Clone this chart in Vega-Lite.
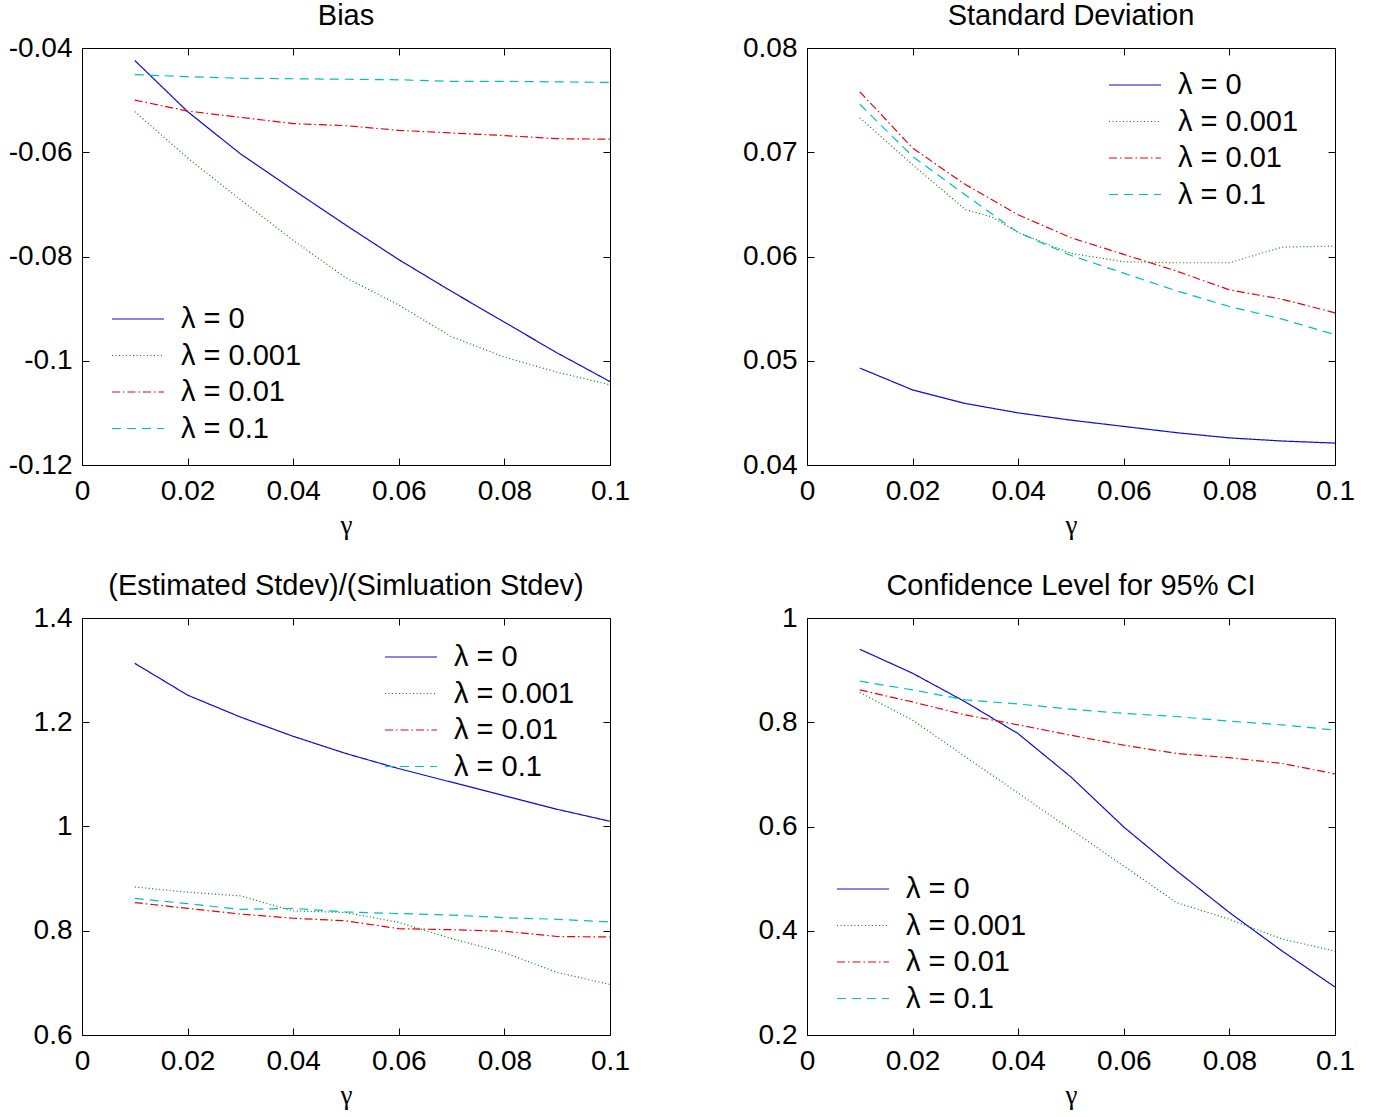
{
  "$schema": "https://vega.github.io/schema/vega-lite/v6.json",
  "padding": {"left": 6, "top": 1, "right": 5, "bottom": 5},
  "background": "white",
  "columns": 2,
  "spacing": {"column": 101, "row": 32},
  "resolve": {
    "scale": {"x": "independent", "y": "independent", "color": "independent", "strokeDash": "independent"},
    "legend": {"color": "independent", "strokeDash": "independent"}
  },
  "datasets": {
    "bias": [
      {"g":0.01,"lam":"λ = 0","v":-0.0424},{"g":0.02,"lam":"λ = 0","v":-0.0522},{"g":0.03,"lam":"λ = 0","v":-0.0603},{"g":0.04,"lam":"λ = 0","v":-0.0672},{"g":0.05,"lam":"λ = 0","v":-0.0740},{"g":0.06,"lam":"λ = 0","v":-0.0806},{"g":0.07,"lam":"λ = 0","v":-0.0867},{"g":0.08,"lam":"λ = 0","v":-0.0926},{"g":0.09,"lam":"λ = 0","v":-0.0985},{"g":0.1,"lam":"λ = 0","v":-0.1040},
      {"g":0.01,"lam":"λ = 0.001","v":-0.0522},{"g":0.02,"lam":"λ = 0.001","v":-0.0611},{"g":0.03,"lam":"λ = 0.001","v":-0.0691},{"g":0.04,"lam":"λ = 0.001","v":-0.0769},{"g":0.05,"lam":"λ = 0.001","v":-0.0841},{"g":0.06,"lam":"λ = 0.001","v":-0.0893},{"g":0.07,"lam":"λ = 0.001","v":-0.0954},{"g":0.08,"lam":"λ = 0.001","v":-0.0993},{"g":0.09,"lam":"λ = 0.001","v":-0.1022},{"g":0.1,"lam":"λ = 0.001","v":-0.1046},
      {"g":0.01,"lam":"λ = 0.01","v":-0.0500},{"g":0.02,"lam":"λ = 0.01","v":-0.0521},{"g":0.03,"lam":"λ = 0.01","v":-0.0533},{"g":0.04,"lam":"λ = 0.01","v":-0.0545},{"g":0.05,"lam":"λ = 0.01","v":-0.0549},{"g":0.06,"lam":"λ = 0.01","v":-0.0558},{"g":0.07,"lam":"λ = 0.01","v":-0.0563},{"g":0.08,"lam":"λ = 0.01","v":-0.0568},{"g":0.09,"lam":"λ = 0.01","v":-0.0574},{"g":0.1,"lam":"λ = 0.01","v":-0.0575},
      {"g":0.01,"lam":"λ = 0.1","v":-0.0451},{"g":0.02,"lam":"λ = 0.1","v":-0.0455},{"g":0.03,"lam":"λ = 0.1","v":-0.0458},{"g":0.04,"lam":"λ = 0.1","v":-0.0459},{"g":0.05,"lam":"λ = 0.1","v":-0.0460},{"g":0.06,"lam":"λ = 0.1","v":-0.0461},{"g":0.07,"lam":"λ = 0.1","v":-0.0464},{"g":0.08,"lam":"λ = 0.1","v":-0.0464},{"g":0.09,"lam":"λ = 0.1","v":-0.0465},{"g":0.1,"lam":"λ = 0.1","v":-0.0466}
    ],
    "sd": [
      {"g":0.01,"lam":"λ = 0","v":0.0493},{"g":0.02,"lam":"λ = 0","v":0.0472},{"g":0.03,"lam":"λ = 0","v":0.0459},{"g":0.04,"lam":"λ = 0","v":0.0450},{"g":0.05,"lam":"λ = 0","v":0.0443},{"g":0.06,"lam":"λ = 0","v":0.0437},{"g":0.07,"lam":"λ = 0","v":0.0431},{"g":0.08,"lam":"λ = 0","v":0.0426},{"g":0.09,"lam":"λ = 0","v":0.0423},{"g":0.1,"lam":"λ = 0","v":0.0421},
      {"g":0.01,"lam":"λ = 0.001","v":0.0733},{"g":0.02,"lam":"λ = 0.001","v":0.0688},{"g":0.03,"lam":"λ = 0.001","v":0.0645},{"g":0.035,"lam":"λ = 0.001","v":0.0638},{"g":0.04,"lam":"λ = 0.001","v":0.0623},{"g":0.05,"lam":"λ = 0.001","v":0.0603},{"g":0.06,"lam":"λ = 0.001","v":0.0595},{"g":0.07,"lam":"λ = 0.001","v":0.0594},{"g":0.08,"lam":"λ = 0.001","v":0.0594},{"g":0.09,"lam":"λ = 0.001","v":0.0609},{"g":0.1,"lam":"λ = 0.001","v":0.0610},
      {"g":0.01,"lam":"λ = 0.01","v":0.0758},{"g":0.02,"lam":"λ = 0.01","v":0.0704},{"g":0.03,"lam":"λ = 0.01","v":0.0669},{"g":0.04,"lam":"λ = 0.01","v":0.0640},{"g":0.05,"lam":"λ = 0.01","v":0.0618},{"g":0.06,"lam":"λ = 0.01","v":0.0602},{"g":0.07,"lam":"λ = 0.01","v":0.0586},{"g":0.08,"lam":"λ = 0.01","v":0.0568},{"g":0.09,"lam":"λ = 0.01","v":0.0559},{"g":0.1,"lam":"λ = 0.01","v":0.0546},
      {"g":0.01,"lam":"λ = 0.1","v":0.0746},{"g":0.02,"lam":"λ = 0.1","v":0.0696},{"g":0.03,"lam":"λ = 0.1","v":0.0659},{"g":0.04,"lam":"λ = 0.1","v":0.0623},{"g":0.05,"lam":"λ = 0.1","v":0.0601},{"g":0.06,"lam":"λ = 0.1","v":0.0584},{"g":0.07,"lam":"λ = 0.1","v":0.0567},{"g":0.08,"lam":"λ = 0.1","v":0.0552},{"g":0.09,"lam":"λ = 0.1","v":0.0540},{"g":0.1,"lam":"λ = 0.1","v":0.0525}
    ],
    "ratio": [
      {"g":0.01,"lam":"λ = 0","v":1.313},{"g":0.02,"lam":"λ = 0","v":1.252},{"g":0.03,"lam":"λ = 0","v":1.210},{"g":0.04,"lam":"λ = 0","v":1.173},{"g":0.05,"lam":"λ = 0","v":1.140},{"g":0.06,"lam":"λ = 0","v":1.111},{"g":0.07,"lam":"λ = 0","v":1.085},{"g":0.08,"lam":"λ = 0","v":1.059},{"g":0.09,"lam":"λ = 0","v":1.033},{"g":0.1,"lam":"λ = 0","v":1.010},
      {"g":0.01,"lam":"λ = 0.001","v":0.884},{"g":0.02,"lam":"λ = 0.001","v":0.874},{"g":0.03,"lam":"λ = 0.001","v":0.867},{"g":0.04,"lam":"λ = 0.001","v":0.838},{"g":0.05,"lam":"λ = 0.001","v":0.835},{"g":0.06,"lam":"λ = 0.001","v":0.816},{"g":0.07,"lam":"λ = 0.001","v":0.785},{"g":0.08,"lam":"λ = 0.001","v":0.758},{"g":0.09,"lam":"λ = 0.001","v":0.720},{"g":0.1,"lam":"λ = 0.001","v":0.697},
      {"g":0.01,"lam":"λ = 0.01","v":0.854},{"g":0.02,"lam":"λ = 0.01","v":0.843},{"g":0.03,"lam":"λ = 0.01","v":0.832},{"g":0.04,"lam":"λ = 0.01","v":0.824},{"g":0.05,"lam":"λ = 0.01","v":0.819},{"g":0.06,"lam":"λ = 0.01","v":0.804},{"g":0.07,"lam":"λ = 0.01","v":0.802},{"g":0.08,"lam":"λ = 0.01","v":0.799},{"g":0.09,"lam":"λ = 0.01","v":0.789},{"g":0.1,"lam":"λ = 0.01","v":0.788},
      {"g":0.01,"lam":"λ = 0.1","v":0.862},{"g":0.02,"lam":"λ = 0.1","v":0.852},{"g":0.03,"lam":"λ = 0.1","v":0.841},{"g":0.04,"lam":"λ = 0.1","v":0.843},{"g":0.05,"lam":"λ = 0.1","v":0.836},{"g":0.06,"lam":"λ = 0.1","v":0.833},{"g":0.07,"lam":"λ = 0.1","v":0.830},{"g":0.08,"lam":"λ = 0.1","v":0.825},{"g":0.09,"lam":"λ = 0.1","v":0.822},{"g":0.1,"lam":"λ = 0.1","v":0.817}
    ],
    "conf": [
      {"g":0.01,"lam":"λ = 0","v":0.940},{"g":0.02,"lam":"λ = 0","v":0.894},{"g":0.03,"lam":"λ = 0","v":0.839},{"g":0.04,"lam":"λ = 0","v":0.778},{"g":0.05,"lam":"λ = 0","v":0.695},{"g":0.06,"lam":"λ = 0","v":0.599},{"g":0.07,"lam":"λ = 0","v":0.515},{"g":0.08,"lam":"λ = 0","v":0.435},{"g":0.09,"lam":"λ = 0","v":0.361},{"g":0.1,"lam":"λ = 0","v":0.292},
      {"g":0.01,"lam":"λ = 0.001","v":0.857},{"g":0.02,"lam":"λ = 0.001","v":0.804},{"g":0.03,"lam":"λ = 0.001","v":0.734},{"g":0.04,"lam":"λ = 0.001","v":0.664},{"g":0.05,"lam":"λ = 0.001","v":0.594},{"g":0.06,"lam":"λ = 0.001","v":0.524},{"g":0.07,"lam":"λ = 0.001","v":0.454},{"g":0.08,"lam":"λ = 0.001","v":0.422},{"g":0.09,"lam":"λ = 0.001","v":0.384},{"g":0.1,"lam":"λ = 0.001","v":0.361},
      {"g":0.01,"lam":"λ = 0.01","v":0.862},{"g":0.02,"lam":"λ = 0.01","v":0.839},{"g":0.03,"lam":"λ = 0.01","v":0.814},{"g":0.04,"lam":"λ = 0.01","v":0.795},{"g":0.05,"lam":"λ = 0.01","v":0.775},{"g":0.06,"lam":"λ = 0.01","v":0.756},{"g":0.07,"lam":"λ = 0.01","v":0.740},{"g":0.08,"lam":"λ = 0.01","v":0.732},{"g":0.09,"lam":"λ = 0.01","v":0.721},{"g":0.1,"lam":"λ = 0.01","v":0.701},
      {"g":0.01,"lam":"λ = 0.1","v":0.879},{"g":0.02,"lam":"λ = 0.1","v":0.862},{"g":0.03,"lam":"λ = 0.1","v":0.843},{"g":0.04,"lam":"λ = 0.1","v":0.835},{"g":0.05,"lam":"λ = 0.1","v":0.825},{"g":0.06,"lam":"λ = 0.1","v":0.817},{"g":0.07,"lam":"λ = 0.1","v":0.811},{"g":0.08,"lam":"λ = 0.1","v":0.802},{"g":0.09,"lam":"λ = 0.1","v":0.795},{"g":0.1,"lam":"λ = 0.1","v":0.785}
    ]
  },
  "concat": [
    {
      "title": "Bias",
      "width": 528, "height": 417,
      "data": {"name": "bias"},
      "layer": [
        {
          "mark": {"type": "line", "strokeWidth": 1.2},
          "encoding": {
            "x": {"field": "g", "type": "quantitative", "scale": {"domain": [0, 0.1], "nice": false, "zero": false},
              "axis": {"orient": "bottom", "title": "γ", "values": [0, 0.02, 0.04, 0.06, 0.08, 0.1], "labelExpr": "replace(format(datum.value, '~g'), '\u2212', '-')"}},
            "y": {"field": "v", "type": "quantitative", "scale": {"domain": [-0.12, -0.04], "nice": false, "zero": false},
              "axis": {"orient": "left", "title": null, "values": [-0.12, -0.1, -0.08, -0.06, -0.04], "labelExpr": "replace(format(datum.value, '~g'), '\u2212', '-')"}},
            "color": {"field": "lam", "type": "nominal",
              "scale": {"domain": ["λ = 0", "λ = 0.001", "λ = 0.01", "λ = 0.1"], "range": ["#0a0ad8", "#008000", "#ee0000", "#00bfbf"]},
              "legend": {"title": null, "orient": "none", "legendX": 29, "legendY": 253}},
            "strokeDash": {"field": "lam", "type": "nominal",
              "scale": {"domain": ["λ = 0", "λ = 0.001", "λ = 0.01", "λ = 0.1"], "range": [[1, 0], [1, 2.5], [8, 3, 1.5, 3], [9, 6]]},
              "legend": {"title": null, "orient": "none", "legendX": 29, "legendY": 253}}
          }
        },
        {
          "mark": {"type": "point", "opacity": 0},
          "encoding": {
            "x": {"field": "g", "type": "quantitative", "scale": {"domain": [0, 0.1], "nice": false, "zero": false},
              "axis": {"orient": "top", "labels": false, "title": null, "values": [0, 0.02, 0.04, 0.06, 0.08, 0.1], "minExtent": 0, "maxExtent": 0}},
            "y": {"field": "v", "type": "quantitative", "scale": {"domain": [-0.12, -0.04], "nice": false, "zero": false},
              "axis": {"orient": "right", "labels": false, "title": null, "values": [-0.12, -0.1, -0.08, -0.06, -0.04], "minExtent": 0, "maxExtent": 0}}
          }
        }
      ]
    },
    {
      "title": "Standard Deviation",
      "width": 528, "height": 417,
      "data": {"name": "sd"},
      "layer": [
        {
          "mark": {"type": "line", "strokeWidth": 1.2},
          "encoding": {
            "x": {"field": "g", "type": "quantitative", "scale": {"domain": [0, 0.1], "nice": false, "zero": false},
              "axis": {"orient": "bottom", "title": "γ", "values": [0, 0.02, 0.04, 0.06, 0.08, 0.1], "labelExpr": "replace(format(datum.value, '~g'), '\u2212', '-')"}},
            "y": {"field": "v", "type": "quantitative", "scale": {"domain": [0.04, 0.08], "nice": false, "zero": false},
              "axis": {"orient": "left", "title": null, "values": [0.04, 0.05, 0.06, 0.07, 0.08], "labelExpr": "replace(format(datum.value, '~g'), '\u2212', '-')"}},
            "color": {"field": "lam", "type": "nominal",
              "scale": {"domain": ["λ = 0", "λ = 0.001", "λ = 0.01", "λ = 0.1"], "range": ["#0a0ad8", "#008000", "#ee0000", "#00bfbf"]},
              "legend": {"title": null, "orient": "none", "legendX": 301, "legendY": 19}},
            "strokeDash": {"field": "lam", "type": "nominal",
              "scale": {"domain": ["λ = 0", "λ = 0.001", "λ = 0.01", "λ = 0.1"], "range": [[1, 0], [1, 2.5], [8, 3, 1.5, 3], [9, 6]]},
              "legend": {"title": null, "orient": "none", "legendX": 301, "legendY": 19}}
          }
        },
        {
          "mark": {"type": "point", "opacity": 0},
          "encoding": {
            "x": {"field": "g", "type": "quantitative", "scale": {"domain": [0, 0.1], "nice": false, "zero": false},
              "axis": {"orient": "top", "labels": false, "title": null, "values": [0, 0.02, 0.04, 0.06, 0.08, 0.1], "minExtent": 0, "maxExtent": 0}},
            "y": {"field": "v", "type": "quantitative", "scale": {"domain": [0.04, 0.08], "nice": false, "zero": false},
              "axis": {"orient": "right", "labels": false, "title": null, "values": [0.04, 0.05, 0.06, 0.07, 0.08], "minExtent": 0, "maxExtent": 0}}
          }
        }
      ]
    },
    {
      "title": "(Estimated Stdev)/(Simluation Stdev)",
      "width": 528, "height": 417,
      "data": {"name": "ratio"},
      "layer": [
        {
          "mark": {"type": "line", "strokeWidth": 1.2},
          "encoding": {
            "x": {"field": "g", "type": "quantitative", "scale": {"domain": [0, 0.1], "nice": false, "zero": false},
              "axis": {"orient": "bottom", "title": "γ", "values": [0, 0.02, 0.04, 0.06, 0.08, 0.1], "labelExpr": "replace(format(datum.value, '~g'), '\u2212', '-')"}},
            "y": {"field": "v", "type": "quantitative", "scale": {"domain": [0.6, 1.4], "nice": false, "zero": false},
              "axis": {"orient": "left", "title": null, "values": [0.6, 0.8, 1, 1.2, 1.4], "labelExpr": "replace(format(datum.value, '~g'), '\u2212', '-')"}},
            "color": {"field": "lam", "type": "nominal",
              "scale": {"domain": ["λ = 0", "λ = 0.001", "λ = 0.01", "λ = 0.1"], "range": ["#0a0ad8", "#008000", "#ee0000", "#00bfbf"]},
              "legend": {"title": null, "orient": "none", "legendX": 302, "legendY": 21}},
            "strokeDash": {"field": "lam", "type": "nominal",
              "scale": {"domain": ["λ = 0", "λ = 0.001", "λ = 0.01", "λ = 0.1"], "range": [[1, 0], [1, 2.5], [8, 3, 1.5, 3], [9, 6]]},
              "legend": {"title": null, "orient": "none", "legendX": 302, "legendY": 21}}
          }
        },
        {
          "mark": {"type": "point", "opacity": 0},
          "encoding": {
            "x": {"field": "g", "type": "quantitative", "scale": {"domain": [0, 0.1], "nice": false, "zero": false},
              "axis": {"orient": "top", "labels": false, "title": null, "values": [0, 0.02, 0.04, 0.06, 0.08, 0.1], "minExtent": 0, "maxExtent": 0}},
            "y": {"field": "v", "type": "quantitative", "scale": {"domain": [0.6, 1.4], "nice": false, "zero": false},
              "axis": {"orient": "right", "labels": false, "title": null, "values": [0.6, 0.8, 1, 1.2, 1.4], "minExtent": 0, "maxExtent": 0}}
          }
        }
      ]
    },
    {
      "title": "Confidence Level for 95% CI",
      "width": 528, "height": 417,
      "data": {"name": "conf"},
      "layer": [
        {
          "mark": {"type": "line", "strokeWidth": 1.2},
          "encoding": {
            "x": {"field": "g", "type": "quantitative", "scale": {"domain": [0, 0.1], "nice": false, "zero": false},
              "axis": {"orient": "bottom", "title": "γ", "values": [0, 0.02, 0.04, 0.06, 0.08, 0.1], "labelExpr": "replace(format(datum.value, '~g'), '\u2212', '-')"}},
            "y": {"field": "v", "type": "quantitative", "scale": {"domain": [0.2, 1], "nice": false, "zero": false},
              "axis": {"orient": "left", "title": null, "values": [0.2, 0.4, 0.6, 0.8, 1], "labelExpr": "replace(format(datum.value, '~g'), '\u2212', '-')"}},
            "color": {"field": "lam", "type": "nominal",
              "scale": {"domain": ["λ = 0", "λ = 0.001", "λ = 0.01", "λ = 0.1"], "range": ["#0a0ad8", "#008000", "#ee0000", "#00bfbf"]},
              "legend": {"title": null, "orient": "none", "legendX": 29, "legendY": 253}},
            "strokeDash": {"field": "lam", "type": "nominal",
              "scale": {"domain": ["λ = 0", "λ = 0.001", "λ = 0.01", "λ = 0.1"], "range": [[1, 0], [1, 2.5], [8, 3, 1.5, 3], [9, 6]]},
              "legend": {"title": null, "orient": "none", "legendX": 29, "legendY": 253}}
          }
        },
        {
          "mark": {"type": "point", "opacity": 0},
          "encoding": {
            "x": {"field": "g", "type": "quantitative", "scale": {"domain": [0, 0.1], "nice": false, "zero": false},
              "axis": {"orient": "top", "labels": false, "title": null, "values": [0, 0.02, 0.04, 0.06, 0.08, 0.1], "minExtent": 0, "maxExtent": 0}},
            "y": {"field": "v", "type": "quantitative", "scale": {"domain": [0.2, 1], "nice": false, "zero": false},
              "axis": {"orient": "right", "labels": false, "title": null, "values": [0.2, 0.4, 0.6, 0.8, 1], "minExtent": 0, "maxExtent": 0}}
          }
        }
      ]
    }
  ],
  "config": {
    "font": "Liberation Sans",
    "view": {"stroke": "black", "strokeWidth": 1},
    "axis": {
      "domain": false, "grid": false,
      "tickSize": -7, "tickColor": "black", "tickWidth": 1,
      "labelFont": "Liberation Sans", "labelFontSize": 28, "labelColor": "black",
      "labelFlush": false, "labelOverlap": false, "labelBound": false,
      "titleFont": "Liberation Serif", "titleFontSize": 27, "titleFontWeight": "normal", "titleColor": "black", "titlePadding": 7
    },
    "axisLeft": {"minExtent": 75, "maxExtent": 75, "labelPadding": 17},
    "axisBottom": {"labelPadding": 19},
    "title": {"font": "Liberation Sans", "fontSize": 29, "fontWeight": "normal", "color": "black", "offset": 3},
    "legend": {
      "padding": 0, "labelFont": "Liberation Sans", "labelFontSize": 29, "labelColor": "black",
      "symbolType": "stroke", "symbolSize": 2704, "symbolStrokeWidth": 1.2, "labelOffset": 16,
      "rowPadding": 0.5, "clipHeight": 36
    }
  }
}
